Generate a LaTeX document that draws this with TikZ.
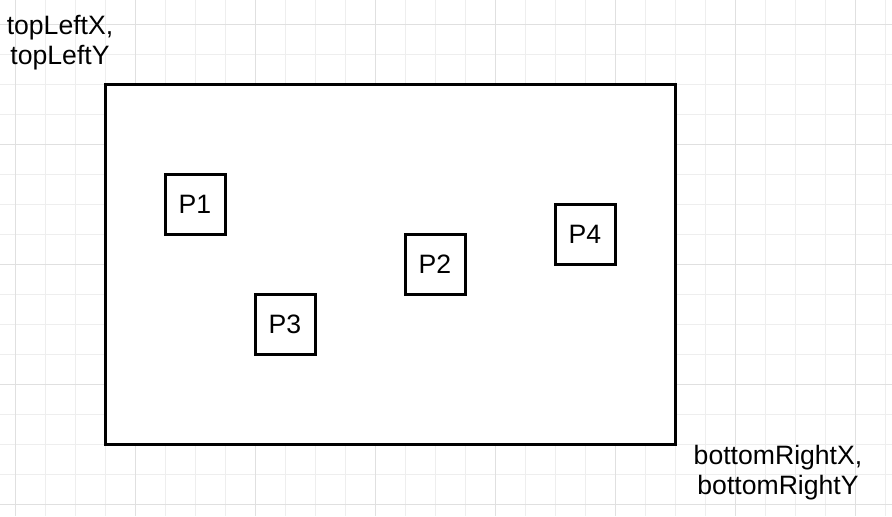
\documentclass[tikz,border=0pt]{standalone}
\usepackage{fontspec}
\setmainfont{Liberation Sans}
\usetikzlibrary{positioning}
\definecolor{gridminor}{RGB}{238,238,238}
\definecolor{gridmajor}{RGB}{224,224,224}

\begin{document}
\begin{tikzpicture}[x=0.5pt, y=-0.5pt, line width=1.5pt,
    area/.style={draw=black, fill=white},
    point/.style={draw=black, fill=white, minimum size=30pt, inner sep=0pt, font=\fontsize{13.3}{15}\selectfont},
    corner label/.style={align=center, inner sep=0pt, font=\fontsize{13.3}{15}\selectfont}
  ]
  \def\picwidth{892}
  \def\picheight{516}
  \useasboundingbox (0,0) rectangle (\picwidth,\picheight);

  % background grid
  \begin{scope}[line width=0.5pt]
    \foreach \x in {15,45,...,885}
      \draw [gridminor] (\x,0) -- (\x,\picheight);
    \foreach \y in {24,54,...,504}
      \draw [gridminor] (0,\y) -- (\picwidth,\y);
    \foreach \x in {15,135,...,855}
      \draw [gridmajor] (\x,0) -- (\x,\picheight);
    \foreach \y in {24,144,...,504}
      \draw [gridmajor] (0,\y) -- (\picwidth,\y);
  \end{scope}

  \coordinate (tl) at (105,84);
  \coordinate (br) at (675,444);
  \path [area] (tl) rectangle (br);

  \node [point] (p1) at (195,204) {P1};
  \node [point] (p2) at (435,264) {P2};
  \node [point] (p3) at (285,324) {P3};
  \node [point] (p4) at (585,234) {P4};

  \node [corner label] (tllabel) at (60,43) {topLeftX,\\topLeftY};
  \node [corner label] (brlabel) at (778,473) {bottomRightX,\\bottomRightY};
\end{tikzpicture}
\end{document}
